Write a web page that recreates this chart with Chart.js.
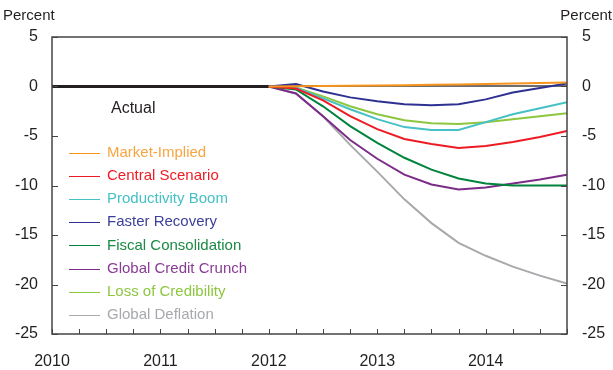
<!DOCTYPE html>
<html>
<head>
<meta charset="utf-8">
<script src="https://cdn.jsdelivr.net/npm/chart.js@4.4.1/dist/chart.umd.min.js"></script>
<style>
  body { margin: 0; background: #fff; }
  #wrap { width: 613px; height: 370px; position: relative; }
</style>
</head>
<body>
<div id="wrap"><canvas id="graph"></canvas></div>
<script>
// quarters, as decimal years
let actualDates = [2010, 2010.25, 2010.5, 2010.75, 2011, 2011.25, 2011.5, 2011.75, 2012];
let actual = [0, 0, 0, 0, 0, 0, 0, 0, 0];

let scenarioDates = [2012, 2012.25, 2012.5, 2012.75, 2013, 2013.25, 2013.5, 2013.75, 2014, 2014.25, 2014.5, 2014.75];
let marketImplied = [0, 0.02, 0.05, 0.08, 0.1, 0.13, 0.17, 0.2, 0.25, 0.3, 0.35, 0.4];
let centralScenario = [0, -0.2, -1.4, -3.0, -4.3, -5.3, -5.8, -6.2, -6.0, -5.6, -5.1, -4.5];
let productivityBoom = [0, -0.1, -1.2, -2.3, -3.3, -4.1, -4.4, -4.4, -3.6, -2.8, -2.2, -1.6];
let fasterRecovery = [0, 0.25, -0.5, -1.1, -1.5, -1.8, -1.9, -1.8, -1.3, -0.6, -0.15, 0.3];
let fiscalConsolidation = [0, -0.3, -2.0, -4.0, -5.7, -7.2, -8.4, -9.3, -9.8, -10.0, -10.0, -10.0];
let globalCreditCrunch = [0, -0.7, -3.0, -5.4, -7.3, -8.9, -9.9, -10.4, -10.2, -9.8, -9.4, -8.9];
let lossOfCredibility = [0, -0.1, -1.0, -2.0, -2.8, -3.4, -3.7, -3.8, -3.6, -3.3, -3.0, -2.7];
let globalDeflation = [0, -0.7, -3.0, -5.9, -8.6, -11.4, -13.8, -15.8, -17.1, -18.2, -19.1, -19.9];

let quarterTicks = [];
for (let q = 0; q <= 19; q++) quarterTicks.push(2010 + q / 4);
let yTicks = [-25, -20, -15, -10, -5, 0, 5];

function pts(xs, ys) {
  return xs.map((x, i) => ({ x: x, y: ys[i] }));
}

function scenario(label, values, color, textColor) {
  return {
    label: label,
    data: pts(scenarioDates, values),
    borderColor: color,
    textColor: textColor,
    borderWidth: 2,
    pointRadius: 0,
    tension: 0,
    fill: false
  };
}

let graphData = {
  datasets: [
    scenario("Market-Implied", marketImplied, '#f7941d', '#f7a541'),
    scenario("Central Scenario", centralScenario, '#ed1c24', '#ed1c24'),
    scenario("Productivity Boom", productivityBoom, '#45c1c6', '#45c1c6'),
    scenario("Faster Recovery", fasterRecovery, '#2e3192', '#3d3f9a'),
    scenario("Fiscal Consolidation", fiscalConsolidation, '#00843d', '#1a8a44'),
    scenario("Global Credit Crunch", globalCreditCrunch, '#7b2c87', '#8a3c96'),
    scenario("Loss of Credibility", lossOfCredibility, '#8dc63f', '#8dc63f'),
    scenario("Global Deflation", globalDeflation, '#a7a9ac', '#a7a9ac'),
    {
      label: "Actual",
      data: pts(actualDates, actual),
      borderColor: '#231f20',
      borderWidth: 3,
      pointRadius: 0,
      tension: 0,
      inLegend: false
    }
  ]
};

// frame, inward tick marks, titles, legend and the "Actual" note
let decorations = {
  id: 'decorations',
  afterDraw(chart) {
    let c = chart.ctx;
    let a = chart.chartArea;
    let xs = chart.scales.x;
    let ys = chart.scales.y;
    c.save();
    c.strokeStyle = '#444';
    c.lineWidth = 1.5;
    c.strokeRect(a.left, a.top, a.right - a.left, a.bottom - a.top);
    c.lineWidth = 1;
    c.beginPath();
    quarterTicks.forEach(v => {
      let x = Math.round(xs.getPixelForValue(v)) + 0.5;
      c.moveTo(x, a.bottom);
      c.lineTo(x, a.bottom - 5);
    });
    yTicks.forEach(v => {
      let y = Math.round(ys.getPixelForValue(v)) + 0.5;
      c.moveTo(a.left, y);
      c.lineTo(a.left + 6, y);
      c.moveTo(a.right, y);
      c.lineTo(a.right - 6, y);
    });
    c.stroke();

    c.fillStyle = '#231f20';
    c.font = '15px "Liberation Sans", Arial, sans-serif';
    c.textBaseline = 'middle';
    c.textAlign = 'left';
    c.fillText('Percent', 3, 16);
    c.textAlign = 'right';
    c.fillText('Percent', 612, 16);

    c.textAlign = 'left';
    c.font = '16px "Liberation Sans", Arial, sans-serif';
    c.fillText('Actual', a.left + 59, a.top + 72);

    c.font = '15px "Liberation Sans", Arial, sans-serif';
    let row = 0;
    chart.data.datasets.forEach(ds => {
      if (ds.inLegend === false) return;
      let y = a.top + 116 + row * 23.1;
      c.strokeStyle = ds.borderColor;
      c.lineWidth = 1;
      c.beginPath();
      c.moveTo(a.left + 17, Math.round(y) + 0.5);
      c.lineTo(a.left + 48, Math.round(y) + 0.5);
      c.stroke();
      c.fillStyle = ds.textColor;
      c.fillText(ds.label, a.left + 55, y);
      row++;
    });
    c.restore();
  }
};

let yScale = (pos, width, pad) => ({
  position: pos,
  min: -25,
  max: 5,
  afterBuildTicks: s => { s.ticks = yTicks.map(v => ({ value: v })); },
  afterFit: s => { s.width = width; },
  grid: {
    drawTicks: false,
    drawOnChartArea: pos === 'left',
    color: ctx => ctx.tick && ctx.tick.value === 0 ? '#6d6e71' : 'rgba(0,0,0,0)',
    lineWidth: 2
  },
  border: { display: false },
  ticks: {
    padding: pad,
    color: '#231f20',
    font: { size: 16 }
  }
});

Chart.defaults.font.family = '"Liberation Sans", Arial, sans-serif';

let stat = new Chart(document.getElementById('graph').getContext('2d'), {
  type: 'line',
  data: graphData,
  options: {
    responsive: true,
    maintainAspectRatio: false,
    animation: false,
    layout: { padding: { top: 37, left: 0, right: 0, bottom: 0 } },
    plugins: {
      legend: { display: false },
      tooltip: { enabled: false }
    },
    scales: {
      x: {
        type: 'linear',
        min: 2010,
        max: 2014.75,
        afterBuildTicks: s => { s.ticks = quarterTicks.map(v => ({ value: v })); },
        afterFit: s => { s.height = 36; },
        grid: { display: false, drawTicks: false },
        border: { display: false },
        ticks: {
          autoSkip: false,
          maxRotation: 0,
          padding: 18,
          color: '#231f20',
          font: { size: 16 },
          callback: v => Number.isInteger(v) ? String(v) : ''
        }
      },
      y: yScale('left', 52, 14),
      y2: yScale('right', 46, 15)
    }
  },
  plugins: [decorations]
});
</script>
</body>
</html>
